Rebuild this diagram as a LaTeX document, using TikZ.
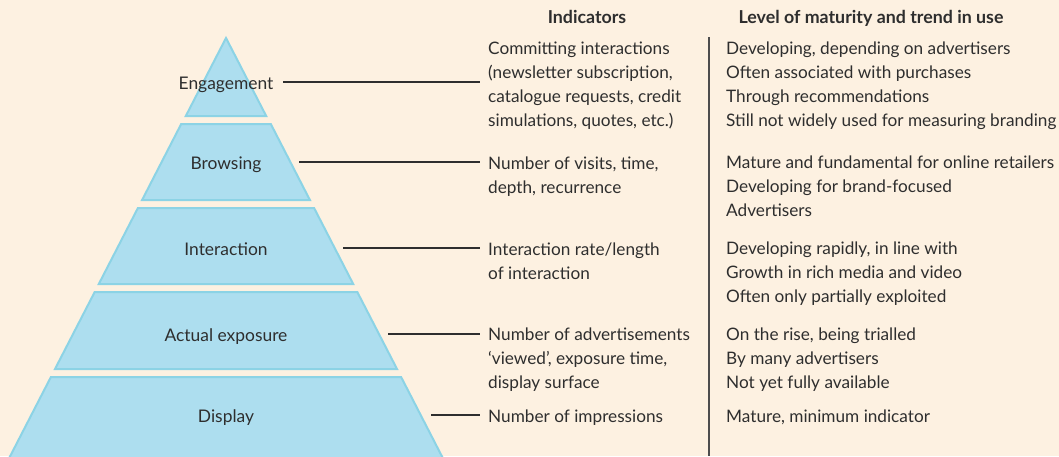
\documentclass[tikz,border=0pt]{standalone}
\usepackage{fontspec}
\setmainfont{Lato}
\definecolor{bg}{HTML}{FDF1E1}
\definecolor{bandfill}{HTML}{ADDEEF}
\definecolor{bandline}{HTML}{8CD3E5}
\definecolor{txt}{HTML}{2E2E2E}
\newcommand{\mlines}[1]{\vtop{\baselineskip=24pt\halign{##\hfil\cr#1\crcr}}}
\begin{document}
\begin{tikzpicture}[x=1pt,y=-1pt,
  band/.style={fill=bandfill,draw=bandline,line width=2pt,line join=miter},
  lvl/.style={inner sep=0pt,anchor=base,text=txt,font=\fontsize{17.4}{24}\selectfont},
  col/.style={inner sep=0pt,anchor=base west,text=txt,font=\fontsize{17.2}{24}\selectfont},
  head/.style={inner sep=0pt,anchor=base,text=txt,font=\fontsize{17.8}{24}\selectfont\bfseries},
  conn/.style={draw=txt,line width=1.2pt,shorten >=8pt}]
\fill[bg] (0,0) rectangle (1059,456);
\useasboundingbox (0,0) rectangle (1059,456);
% pyramid bands
\path[band] (226,38) -- (266.2,116) -- (185.8,116) -- cycle;
\path[band] (181.2,124) -- (270.8,124) -- (309.9,200) -- (142.1,200) -- cycle;
\path[band] (137.9,208) -- (314.1,208) -- (353.2,284) -- (98.8,284) -- cycle;
\path[band] (94.7,292) -- (357.3,292) -- (397,369) -- (55,369) -- cycle;
\path[band] (50.9,377) -- (401.1,377) -- (442.8,458) -- (9.2,458) -- cycle;
% level labels
\node[lvl] (eng) at (226,89) {Engagement};
\node[lvl] (bro) at (226,169) {Browsing};
\node[lvl] (int) at (226,255) {Interaction};
\node[lvl] (act) at (226,341) {Actual exposure};
\node[lvl] (dis) at (226,422) {Display};
% headers
\node[head] (h1) at (587,23) {Indicators};
\node[head] (h2) at (871,23) {Level of maturity and trend in use};
% indicators
\node[col] (ieng) at (488,54) {\mlines{Committing interactions\cr(newsletter subscription,\cr catalogue requests, credit\cr simulations, quotes, etc.)}};
\node[col] (ibro) at (488,169) {\mlines{Number of visits, time,\cr depth, recurrence}};
\node[col] (iint) at (488,255) {\mlines{Interaction rate/length\cr of interaction}};
\node[col] (iact) at (488,340) {\mlines{Number of advertisements\cr‘viewed’, exposure time,\cr display surface}};
\node[col] (idis) at (488,422) {Number of impressions};
% maturity
\node[col] (meng) at (726,54) {\mlines{Developing, depending on advertisers\cr Often associated with purchases\cr Through recommendations\cr Still not widely used for measuring branding}};
\node[col] (mbro) at (726,168) {\mlines{Mature and fundamental for online retailers\cr Developing for brand-focused\cr Advertisers}};
\node[col] (mint) at (726,254) {\mlines{Developing rapidly, in line with\cr Growth in rich media and video\cr Often only partially exploited}};
\node[col] (mact) at (726,340) {\mlines{On the rise, being trialled\cr By many advertisers\cr Not yet fully available}};
\node[col] (mdis) at (726,422) {Mature, minimum indicator};
% connectors
\coordinate (seng) at (283,82);
\coordinate (sbro) at (299,162);
\coordinate (sint) at (343,248);
\coordinate (sact) at (388,334);
\coordinate (sdis) at (431,415);
\draw[conn] (seng) -- (seng -| ieng.west);
\draw[conn] (sbro) -- (sbro -| ibro.west);
\draw[conn] (sint) -- (sint -| iint.west);
\draw[conn] (sact) -- (sact -| iact.west);
\draw[conn] (sdis) -- (sdis -| idis.west);
% divider
\coordinate (vtop) at (709,37);
\coordinate (vbot) at (709,456);
\draw[draw=txt!85,line width=1.5pt] (vtop) -- (vbot);
\end{tikzpicture}
\end{document}
